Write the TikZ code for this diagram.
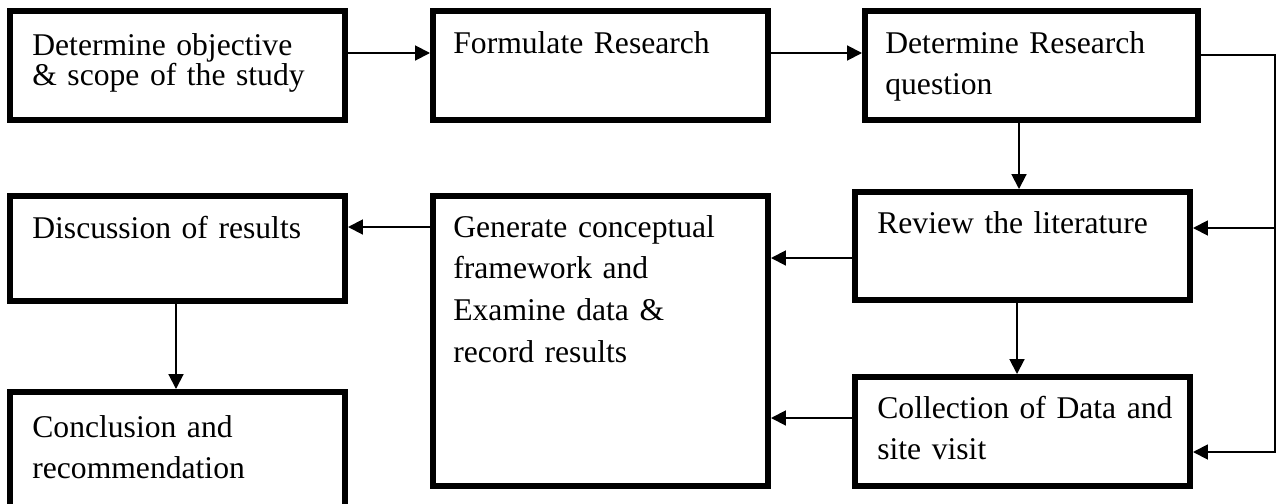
\documentclass[tikz,border=0pt]{standalone}
\usepackage{fontspec}
\setmainfont[WordSpace=0.8]{Liberation Serif}
\usetikzlibrary{arrows.meta,calc}
\begin{document}
\begin{tikzpicture}[x=0.02cm,y=-0.02cm,
  stepbox/.style={draw=black,line width=3.4pt,fill=white,inner sep=0pt,
    minimum width=#1*0.02cm},
  stepbox/.default=335,
  txt/.style={anchor=base west,inner sep=0pt,align=left,text width=7cm,
    font=\fontsize{18}{23.8}\selectfont},
  conn/.style={line width=1.1pt,draw=black},
  arr/.style={conn,-{Triangle[length=8.5pt,width=8.5pt]}}]
\useasboundingbox (0,0) rectangle (1282,504);
\clip (0,0) rectangle (1282,504);

% process boxes (sizes in px units)
\node[stepbox,minimum height=109*0.02cm] (b1) at (177.5,65.5) {};
\node[stepbox,minimum height=109*0.02cm] (b2) at (600.5,65.5) {};
\node[stepbox=333,minimum height=109*0.02cm] (b3) at (1031.5,65.5) {};
\node[stepbox,minimum height=108*0.02cm] (b4) at (1022.5,246) {};
\node[stepbox,minimum height=290*0.02cm] (b5) at (600.5,341) {};
\node[stepbox,minimum height=105*0.02cm] (b6) at (177.5,248.5) {};
\node[stepbox,minimum height=130*0.02cm] (b7) at (177.5,457) {};
\node[stepbox,minimum height=109*0.02cm] (b8) at (1022.5,431.5) {};

% box texts
\node[txt,font=\fontsize{18}{17.6}\selectfont] (t1) at (32,55)
  {Determine objective\\\& scope of the study};
\node[txt] (t2) at (453,53) {Formulate Research};
\node[txt] (t3) at (885,53) {Determine Research\\question};
\node[txt] (t4) at (877,233) {Review the literature};
\node[txt] (t5) at (453,237)
  {Generate conceptual\\framework and\\Examine data \&\\record results};
\node[txt] (t6) at (32,238) {Discussion of results};
\node[txt] (t7) at (32,437) {Conclusion and\\recommendation};
\node[txt] (t8) at (877,418) {Collection of Data and\\site visit};

% connectors
\coordinate (ya) at (0,53);
\draw[arr] (b1.east|-ya) -- (b2.west|-ya);
\draw[arr] (b2.east|-ya) -- (b3.west|-ya);

\coordinate (r1) at (1275,55);
\coordinate (r2) at (1275,228);
\coordinate (r3) at (1275,452);
\draw[arr] (b3.east|-r1) -| (r3) -- (b8.east|-r3);
\draw[arr] (r2) -- (b4.east|-r2);

\coordinate (xa) at (1019,0);
\coordinate (xb) at (1017,0);
\draw[arr] (b3.south-|xa) -- (b4.north-|xa);
\draw[arr] (b4.south-|xb) -- (b8.north-|xb);

\coordinate (yb) at (0,258);
\coordinate (yc) at (0,418);
\draw[arr] (b4.west|-yb) -- (b5.east|-yb);
\draw[arr] (b8.west|-yc) -- (b5.east|-yc);

\coordinate (yd) at (0,227);
\draw[arr] (b5.west|-yd) -- (b6.east|-yd);

\coordinate (xc) at (176,0);
\draw[arr] (b6.south-|xc) -- (b7.north-|xc);
\end{tikzpicture}
\end{document}
